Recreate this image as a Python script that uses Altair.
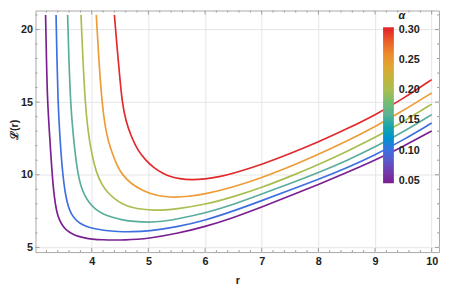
import altair as alt
import pandas as pd

# ---- data ----
alphas = [0.05, 0.10, 0.15, 0.20, 0.25, 0.30]

r_005 = [3.185, 3.20, 3.22, 3.25, 3.30, 3.34, 3.38, 3.43, 3.50, 3.58, 3.67, 3.77, 3.87, 4.0, 4.2, 4.4, 4.6, 4.8, 5.0, 5.5, 6.0, 6.5, 7.0, 7.5, 8.0, 8.5, 9.0, 9.5, 10.0]
L_005 = [21.0, 17.9, 15.0, 13.1, 10.0, 8.4, 7.45, 6.85, 6.4, 6.1, 5.9, 5.75, 5.65, 5.57, 5.52, 5.51, 5.52, 5.56, 5.62, 5.95, 6.42, 7.05, 7.77, 8.55, 9.33, 10.15, 11.0, 11.95, 13.01]

r_010 = [3.37, 3.385, 3.405, 3.43, 3.48, 3.54, 3.59, 3.64, 3.71, 3.79, 3.90, 4.02, 4.25, 4.45, 4.7, 5.0, 5.5, 6.0, 6.5, 7.0, 7.5, 8.0, 8.5, 9.0, 9.5, 10.0]
L_010 = [21.0, 18.0, 15.0, 13.06, 10.2, 8.5, 7.75, 7.3, 6.92, 6.66, 6.45, 6.3, 6.15, 6.09, 6.07, 6.12, 6.4, 6.86, 7.5, 8.22, 8.95, 9.68, 10.47, 11.35, 12.4, 13.56]

r_015 = [3.574, 3.60, 3.626, 3.665, 3.70, 3.75, 3.80, 3.87, 3.95, 4.05, 4.2, 4.34, 4.55, 4.74, 5.0, 5.25, 5.5, 6.0, 6.5, 7.0, 7.5, 8.0, 8.5, 9.0, 9.5, 10.0]
L_015 = [21.0, 17.5, 15.0, 13.06, 11.7, 10.2, 9.3, 8.6, 8.1, 7.66, 7.3, 7.09, 6.88, 6.78, 6.73, 6.78, 6.95, 7.36, 7.95, 8.67, 9.4, 10.15, 10.97, 11.9, 12.95, 14.14]

r_020 = [3.81, 3.85, 3.885, 3.93, 4.0, 4.08, 4.18, 4.28, 4.4, 4.54, 4.7, 4.91, 5.1, 5.3, 5.5, 6.0, 6.5, 7.0, 7.5, 8.0, 8.5, 9.0, 9.5, 10.0]
L_020 = [21.0, 17.4, 15.0, 13.06, 11.4, 10.15, 9.3, 8.78, 8.35, 7.99, 7.75, 7.61, 7.56, 7.58, 7.65, 7.95, 8.48, 9.12, 9.88, 10.7, 11.6, 12.55, 13.65, 14.86]

r_025 = [4.08, 4.13, 4.18, 4.24, 4.30, 4.36, 4.45, 4.54, 4.7, 4.91, 5.1, 5.3, 5.45, 5.7, 6.0, 6.5, 7.0, 7.5, 8.0, 8.5, 9.0, 9.5, 10.0]
L_025 = [21.0, 17.6, 15.0, 13.2, 12.2, 11.5, 10.6, 10.0, 9.35, 8.89, 8.62, 8.49, 8.45, 8.5, 8.67, 9.15, 9.8, 10.55, 11.4, 12.3, 13.3, 14.42, 15.63]

r_030 = [4.40, 4.45, 4.50, 4.537, 4.60, 4.70, 4.81, 4.95, 5.10, 5.25, 5.39, 5.55, 5.75, 6.0, 6.25, 6.5, 7.0, 7.5, 8.0, 8.5, 9.0, 9.5, 10.0]
L_030 = [21.0, 18.6, 16.5, 15.0, 13.7, 12.6, 11.7, 11.0, 10.47, 10.1, 9.86, 9.72, 9.65, 9.7, 9.86, 10.1, 10.7, 11.45, 12.25, 13.15, 14.1, 15.25, 16.55]

x_major = [4, 5, 6, 7, 8, 9, 10]
y_major = [5, 10, 15, 20]
x_minor = [3.2, 3.4, 3.6, 3.8, 4.2, 4.4, 4.6, 4.8, 5.2, 5.4, 5.6, 5.8, 6.2, 6.4, 6.6, 6.8,
           7.2, 7.4, 7.6, 7.8, 8.2, 8.4, 8.6, 8.8, 9.2, 9.4, 9.6, 9.8]
y_minor = [6, 7, 8, 9, 11, 12, 13, 14, 16, 17, 18, 19, 21]

# colour bar stops (the ends padded a little so the end labels sit centred)
color_domain = [0.046, 0.05, 0.10, 0.15, 0.20, 0.25, 0.30, 0.304]
color_range = ["#7a1f92", "#7a1f92", "#3e6fe0", "#59ad9c", "#a8bf4f", "#ee9c36", "#e2292b", "#e2292b"]

# ---- table ----
series = [(0.05, r_005, L_005), (0.10, r_010, L_010), (0.15, r_015, L_015),
          (0.20, r_020, L_020), (0.25, r_025, L_025), (0.30, r_030, L_030)]
rows = []
for a, rs, Ls in series:
    for r, L in zip(rs, Ls):
        rows.append({"alpha": a, "r": r, "L": L})
df = pd.DataFrame(rows)

W, H = 411, 246
xs = alt.Scale(domain=[3.007, 10.13], nice=False, zero=False)
ys = alt.Scale(domain=[4.68, 21.3], nice=False, zero=False)

FONT = "Liberation Sans"
lab = dict(labelFontWeight="bold", labelFontSize=11, labelColor="#222", labelFont=FONT)
tit = dict(titleFontWeight="bold", titleFontSize=11, titleColor="#222", titleFont=FONT)

lines = alt.Chart(df).mark_line(strokeWidth=1.7, interpolate="basis", clip=True).encode(
    x=alt.X("r:Q", scale=xs, axis=alt.Axis(values=x_major, format="d", grid=True, gridColor="#e4e4e4",
                                            ticks=False, domain=False, labelPadding=4, title="r",
                                            titlePadding=8, **lab, **tit)),
    y=alt.Y("L:Q", scale=ys, axis=alt.Axis(values=y_major, format="d", grid=True, gridColor="#e4e4e4",
                                            ticks=False, domain=False, labelPadding=3, title="ℒ(r)",
                                            titleX=-16, titleY=H / 2 - 2, **lab, **tit)),
    color=alt.Color("alpha:Q", scale=alt.Scale(domain=color_domain, range=color_range),
                    legend=alt.Legend(title="α", orient="none", legendX=354, legendY=0,
                                      direction="vertical", gradientLength=159, gradientThickness=11,
                                      values=alphas, format=".2f", labelOffset=5, padding=0,
                                      gradientStrokeWidth=0, titleFontStyle="italic",
                                      titleAnchor="middle", titlePadding=6,
                                      titleFontSize=11, titleColor="#222", titleFont=FONT,
                                      labelFontWeight="bold", labelFontSize=11, labelColor="#222",
                                      labelFont=FONT)),
    detail="alpha:N",
    order="r:Q",
)

tick_col = "#9a9a9a"
xmaj = pd.DataFrame({"t": x_major})
xmin = pd.DataFrame({"t": x_minor})
ymaj = pd.DataFrame({"t": y_major})
ymin = pd.DataFrame({"t": y_minor})


def xt(d, L):
    b = alt.Chart(d).mark_rule(color=tick_col, strokeWidth=1).encode(
        x=alt.X("t:Q", scale=xs), y=alt.value(H), y2=alt.value(H - L))
    t = alt.Chart(d).mark_rule(color=tick_col, strokeWidth=1).encode(
        x=alt.X("t:Q", scale=xs), y=alt.value(0), y2=alt.value(L))
    return b + t


def yt(d, L):
    l = alt.Chart(d).mark_rule(color=tick_col, strokeWidth=1).encode(
        y=alt.Y("t:Q", scale=ys), x=alt.value(0), x2=alt.value(L))
    r = alt.Chart(d).mark_rule(color=tick_col, strokeWidth=1).encode(
        y=alt.Y("t:Q", scale=ys), x=alt.value(W), x2=alt.value(W - L))
    return l + r


chart = alt.layer(
    xt(xmaj, 4), xt(xmin, 2), yt(ymaj, 4), yt(ymin, 2), lines
).properties(
    width=W, height=H,
    autosize=alt.AutoSizeParams(type="none"),
    padding={"left": 28, "top": 0, "right": 2, "bottom": 34},
).configure_view(stroke="#a8a8a8", strokeWidth=1)

chart.save("out.html", embed_options={"renderer": "svg", "actions": False})
